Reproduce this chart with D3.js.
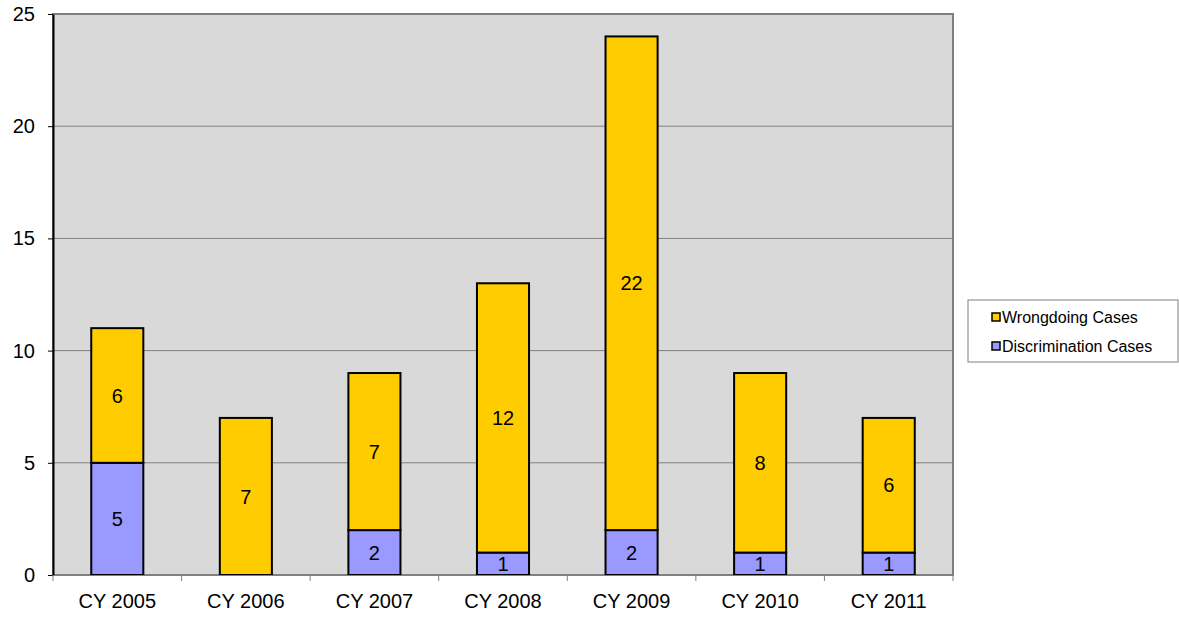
<!DOCTYPE html>
<html>
<head>
<meta charset="utf-8">
<script src="https://cdn.jsdelivr.net/npm/d3@7"></script>
<style>
  html, body { margin: 0; padding: 0; background: #ffffff; }
  svg { display: block; font-family: "Liberation Sans", Arial, sans-serif; }
</style>
</head>
<body>
<svg id="chart" width="1179" height="617"></svg>
<script>
// Case counts per calendar year
const years = ["CY 2005", "CY 2006", "CY 2007", "CY 2008", "CY 2009", "CY 2010", "CY 2011"];
const discrimination = [5, 0, 2, 1, 2, 1, 1];
const wrongdoing = [6, 7, 7, 12, 22, 8, 6];
const yTicks = [0, 5, 10, 15, 20, 25];

const seriesNames = ["Discrimination Cases", "Wrongdoing Cases"];
const seriesColors = { "Discrimination Cases": "#9999ff", "Wrongdoing Cases": "#ffcc00" };

const svg = d3.select("#chart");
const plot = { left: 53, top: 14, right: 953, bottom: 575 };
const fontSize = 20;

const x = d3.scaleBand().domain(years).range([plot.left, plot.right]).paddingInner(0.595).paddingOuter(0.2975);
const xOuter = d3.scaleBand().domain(years).range([plot.left, plot.right]);
const y = d3.scaleLinear().domain([0, 25]).range([plot.bottom, plot.top]);

// plot background
svg.append("rect")
  .attr("x", plot.left).attr("y", plot.top)
  .attr("width", plot.right - plot.left).attr("height", plot.bottom - plot.top)
  .attr("fill", "#d9d9d9")
  .attr("stroke", "#808080").attr("stroke-width", 2);

// horizontal gridlines
svg.append("g").selectAll("line")
  .data(yTicks.filter(t => t > 0 && t < 25))
  .join("line")
  .attr("x1", plot.left).attr("x2", plot.right)
  .attr("y1", d => y(d)).attr("y2", d => y(d))
  .attr("stroke", "#808080").attr("stroke-width", 1);

// stacked bars
const rows = years.map((yr, i) => ({ year: yr, "Discrimination Cases": discrimination[i], "Wrongdoing Cases": wrongdoing[i] }));
const stacked = d3.stack().keys(seriesNames)(rows);

const layers = svg.append("g").selectAll("g")
  .data(stacked)
  .join("g")
  .attr("fill", d => seriesColors[d.key]);

layers.selectAll("rect")
  .data(d => d.filter(s => s[1] - s[0] > 0))
  .join("rect")
  .attr("x", d => x(d.data.year))
  .attr("y", d => y(d[1]))
  .attr("width", x.bandwidth())
  .attr("height", d => y(d[0]) - y(d[1]))
  .attr("stroke", "#000000").attr("stroke-width", 2);

// value labels inside segments
layers.selectAll("text")
  .data(d => d.filter(s => s[1] - s[0] > 0))
  .join("text")
  .attr("x", d => x(d.data.year) + x.bandwidth() / 2)
  .attr("y", d => (y(d[0]) + y(d[1])) / 2)
  .attr("dy", "0.36em")
  .attr("text-anchor", "middle")
  .attr("fill", "#000000")
  .attr("font-size", fontSize)
  .text(d => d[1] - d[0]);

// y axis
const yAxis = svg.append("g")
  .attr("transform", `translate(${plot.left},0)`)
  .call(d3.axisLeft(y).tickValues(yTicks).tickSize(5).tickPadding(13).tickSizeOuter(0));
yAxis.select(".domain").attr("stroke", "#000000").attr("stroke-width", 2);
yAxis.selectAll(".tick line").attr("stroke", "#000000");
yAxis.selectAll("text").attr("font-size", fontSize).attr("fill", "#000000").attr("font-family", "Liberation Sans, Arial, sans-serif");

// x axis with ticks between categories
const xAxis = svg.append("g")
  .attr("transform", `translate(0,${plot.bottom})`)
  .call(d3.axisBottom(x).tickSize(0).tickPadding(19).tickSizeOuter(0));
xAxis.select(".domain").attr("stroke", "#808080").attr("stroke-width", 1);
xAxis.selectAll("text").attr("font-size", fontSize).attr("fill", "#000000").attr("font-family", "Liberation Sans, Arial, sans-serif");
xAxis.selectAll("line.sep")
  .data(years.map(yr => xOuter(yr)).concat([plot.right]))
  .join("line")
  .attr("class", "sep")
  .attr("x1", d => d).attr("x2", d => d)
  .attr("y1", 0).attr("y2", 6)
  .attr("stroke", "#808080");

// legend
const legend = svg.append("g").attr("transform", "translate(968,300)");
legend.append("rect")
  .attr("width", 210).attr("height", 62)
  .attr("fill", "#ffffff").attr("stroke", "#808080").attr("stroke-width", 1);
const legendItems = ["Wrongdoing Cases", "Discrimination Cases"];
const item = legend.selectAll("g.item")
  .data(legendItems)
  .join("g")
  .attr("class", "item")
  .attr("transform", (d, i) => `translate(24,${17 + i * 29})`);
item.append("rect")
  .attr("x", 0).attr("y", -4)
  .attr("width", 8).attr("height", 8)
  .attr("fill", d => seriesColors[d])
  .attr("stroke", "#000000").attr("stroke-width", 1.5);
item.append("text")
  .attr("x", 10).attr("dy", "0.35em")
  .attr("font-size", 16).attr("fill", "#000000")
  .text(d => d);
</script>
</body>
</html>
